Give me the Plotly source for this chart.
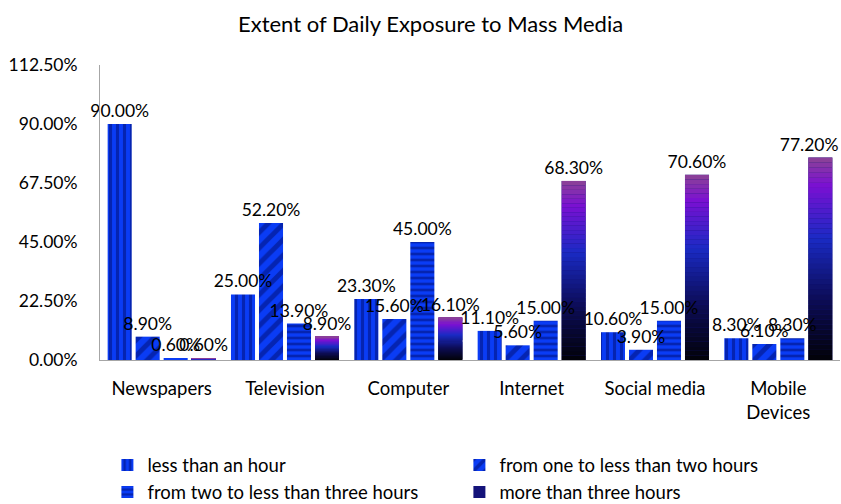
import plotly.graph_objects as go
from plotly.colors import sample_colorscale

# Share of respondents by daily exposure time, per medium
categories = ["Newspapers", "Television", "Computer", "Internet", "Social media", "Mobile<br>Devices"]
less_than_hour = [0.900, 0.250, 0.233, 0.111, 0.106, 0.083]
one_to_two = [0.089, 0.522, 0.156, 0.056, 0.039, 0.061]
two_to_three = [0.006, 0.139, 0.450, 0.150, 0.150, 0.083]
more_than_three = [0.006, 0.089, 0.161, 0.683, 0.706, 0.772]

series_names = [
    "less than an hour",
    "from one to less than two hours",
    "from two to less than three hours",
    "more than three hours",
]

FONT = "Lato"
BLUE = "#0a3cf5"
NAVY = "#000c6e"
PITCH = 0.227
WIDTH = 0.195
FIRST = -0.438

# vertical gradient for the last series (black at the base, purple at the top)
grad_scale = [
    [0.0, "#020208"],
    [0.30, "#0c0c55"],
    [0.60, "#1a2ac4"],
    [0.86, "#7a10d2"],
    [1.0, "#8c4494"],
]
N_SEG = 40
seg_colors = sample_colorscale(grad_scale, [(i + 0.5) / N_SEG for i in range(N_SEG)])


def pct(vals):
    return [f"{v * 100:.2f}%" for v in vals]


all_series = [less_than_hour, one_to_two, two_to_three, more_than_three]
labels = [pct(v) for v in all_series]
# keep the rightmost label inside the page by shifting it left with padding
labels[3][-1] = labels[3][-1] + "\u00a0" * 5

fig = go.Figure()

# last series: solid base bar carrying the legend entry
fig.add_trace(go.Bar(
    x=categories, y=more_than_three, name=series_names[3],
    width=WIDTH, offset=FIRST + 3 * PITCH,
    marker=dict(color="#14137a", line=dict(width=0)),
    legendrank=4,
))
# gradient slices drawn over it
for i, col in enumerate(seg_colors):
    fig.add_trace(go.Bar(
        x=categories,
        y=[v / N_SEG for v in more_than_three],
        base=[v * i / N_SEG for v in more_than_three],
        width=WIDTH, offset=FIRST + 3 * PITCH,
        marker=dict(color=col, line=dict(width=0)),
        showlegend=False, hoverinfo="skip",
    ))

patterns = [("|", 7, 0.45), ("/", 11, 0.45), ("-", 6, 0.45)]
for k, (shape, size, solid) in enumerate(patterns):
    fig.add_trace(go.Bar(
        x=categories, y=all_series[k], name=series_names[k],
        width=WIDTH, offset=FIRST + k * PITCH,
        marker=dict(
            color=BLUE, line=dict(width=0),
            pattern=dict(shape=shape, fgcolor=NAVY, size=size, solidity=solid, fillmode="overlay"),
        ),
        legendrank=k + 1,
    ))

# value labels on transparent copies of the bars, so they sit above every bar
text_font = dict(family=FONT, size=17.5, color="#000000")
for k, vals in enumerate(all_series):
    fig.add_trace(go.Bar(
        x=categories, y=vals,
        width=WIDTH, offset=FIRST + k * PITCH,
        marker=dict(color="rgba(0,0,0,0)", line=dict(width=0)),
        text=labels[k], textposition="outside", textfont=text_font,
        cliponaxis=False, constraintext="none",
        showlegend=False, hoverinfo="skip",
    ))

fig.update_layout(
    width=841, height=504,
    margin=dict(l=100, r=1, t=65, b=144, autoexpand=False),
    paper_bgcolor="white", plot_bgcolor="white",
    barmode="overlay",
    font=dict(family=FONT, size=18, color="#000000"),
    title=dict(text="Extent of Daily Exposure to Mass Media", x=0.512, xanchor="center",
               y=0.952, yanchor="middle", font=dict(family=FONT, size=22)),
    showlegend=True,
    legend=dict(orientation="h", x=0.01, xanchor="left", y=-0.293, yanchor="top",
                entrywidth=307, entrywidthmode="pixels", traceorder="normal",
                font=dict(family=FONT, size=18.5), itemwidth=30),
)
fig.update_xaxes(
    showline=True, linecolor="#a6a6a6", linewidth=1, showgrid=False,
    ticks="", ticklabelstandoff=12, tickfont=dict(family=FONT, size=18.5),
)
fig.update_yaxes(
    range=[0, 1.125], dtick=0.225, tick0=0, tickformat=".2%",
    showline=True, linecolor="#a6a6a6", linewidth=1, showgrid=False, zeroline=False,
    ticks="", ticklabelstandoff=18, tickfont=dict(family=FONT, size=17.5),
)

fig.write_html("out.html")
